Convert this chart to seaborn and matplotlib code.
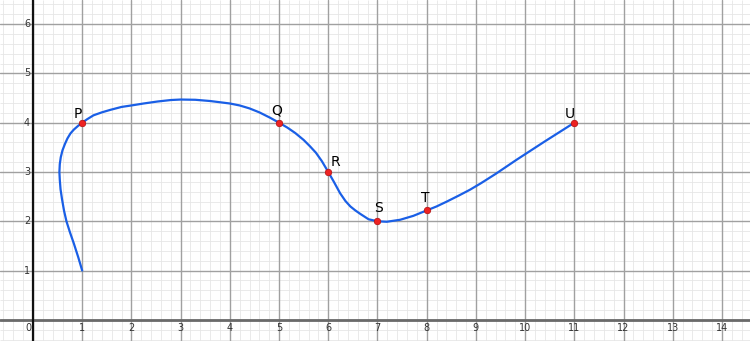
import numpy as np
import pandas as pd
import matplotlib
matplotlib.use("Agg")
import matplotlib.pyplot as plt
from matplotlib.ticker import MultipleLocator
import seaborn as sns

# curve samples
curve_x = [1.0, 0.92, 0.83, 0.75, 0.68, 0.63, 0.59, 0.56, 0.545, 0.537, 0.545, 0.565, 0.60, 0.65,
           0.70, 0.76, 0.83, 0.91, 1.0, 1.1, 1.23, 1.4, 1.57, 1.8, 2.0, 2.25, 2.53, 2.8, 3.0,
           3.3, 3.6, 4.0, 4.2, 4.4, 4.6, 4.82, 5.0, 5.17, 5.33, 5.5, 5.63, 5.75, 5.87, 6.0,
           6.12, 6.24, 6.35, 6.45, 6.55, 6.65, 6.82, 7.0, 7.19, 7.46, 7.73, 8.0, 8.2, 8.41,
           8.65, 8.88, 9.1, 9.4, 9.83, 10.4, 11.0]
curve_y = [1.0, 1.27, 1.55, 1.78, 2.0, 2.22, 2.45, 2.65, 2.84, 3.0, 3.16, 3.3, 3.44, 3.57,
           3.68, 3.78, 3.86, 3.93, 4.0, 4.07, 4.15, 4.21, 4.26, 4.32, 4.35, 4.39, 4.43, 4.46, 4.47,
           4.465, 4.44, 4.39, 4.35, 4.29, 4.21, 4.10, 4.0, 3.9, 3.79, 3.65, 3.52, 3.39, 3.22, 3.0,
           2.79, 2.57, 2.41, 2.30, 2.22, 2.15, 2.04, 2.0, 1.99, 2.03, 2.11, 2.22, 2.30, 2.40,
           2.52, 2.64, 2.77, 2.96, 3.25, 3.62, 4.0]

# labelled points
pt_names = ["P", "Q", "R", "S", "T", "U"]
pt_x = [1, 5, 6, 7, 8, 11]
pt_y = [4, 4, 3, 2, 2.22, 4]
# label offsets in pixels (dx right, dy up)
lab_dx = [-4, -2, 7, 1, -1, -4]
lab_dy = [9, 12, 10, 13, 12, 9]

x_ticks = list(range(0, 15))
y_ticks = list(range(1, 7))

sns.set_theme(style="white")
plt.rcParams['font.family'] = ['DejaVu Sans']

fig = plt.figure(figsize=(7.5, 3.41), dpi=100)
ax = fig.add_axes([0, 0, 1, 1])
xlim = (-0.67, 14.57)
ylim = (-0.43, 6.49)
ax.set_xlim(*xlim)
ax.set_ylim(*ylim)

# minor (0.2) grid drawn underneath the major grid
def minor_pos(lo, hi):
    k = np.arange(np.ceil(lo * 5), np.floor(hi * 5) + 1)
    k = k[k % 5 != 0]
    return k / 5.0

ax.vlines(minor_pos(*xlim), ylim[0], ylim[1], colors="#e6e6e6", lw=0.6, zorder=0.1)
ax.hlines(minor_pos(*ylim), xlim[0], xlim[1], colors="#e6e6e6", lw=0.6, zorder=0.1)

ax.xaxis.set_major_locator(MultipleLocator(1))
ax.yaxis.set_major_locator(MultipleLocator(1))
ax.grid(which="major", color="#a0a0a0", lw=1.0)
ax.set_axisbelow(True)
ax.tick_params(which="both", length=0, labelbottom=False, labelleft=False)
for s in ax.spines.values():
    s.set_visible(False)

ax.axhline(0, color="#6a6a6a", lw=2.0, zorder=2)
ax.axvline(0, color="#111111", lw=1.6, zorder=2)

for t in x_ticks:
    xx = t - 0.1 if t == 0 else t
    ax.text(xx, -0.07, str(t), ha="center", va="top", fontsize=7, color="#333333")
for t in y_ticks:
    ax.text(-0.06, t, str(t), ha="right", va="center", fontsize=7, color="#333333")

df = pd.DataFrame({"x": curve_x, "y": curve_y})
sns.lineplot(data=df, x="x", y="y", sort=False, estimator=None, ax=ax,
             color="#1a5fe6", lw=1.6, zorder=3)

pts = pd.DataFrame({"x": pt_x, "y": pt_y, "name": pt_names})
sns.scatterplot(data=pts, x="x", y="y", ax=ax, color="#ee2222", s=22,
                edgecolor="#b01010", linewidth=0.5, zorder=4)
for n, x, y, dx, dy in zip(pt_names, pt_x, pt_y, lab_dx, lab_dy):
    ax.annotate(n, (x, y), xytext=(dx * 0.72, dy * 0.72), textcoords="offset points",
                ha="center", va="center", fontsize=10, color="black", zorder=5)

ax.set_xlim(*xlim)
ax.set_ylim(*ylim)
ax.set_xlabel("")
ax.set_ylabel("")
fig.savefig("out.png", dpi=100)
